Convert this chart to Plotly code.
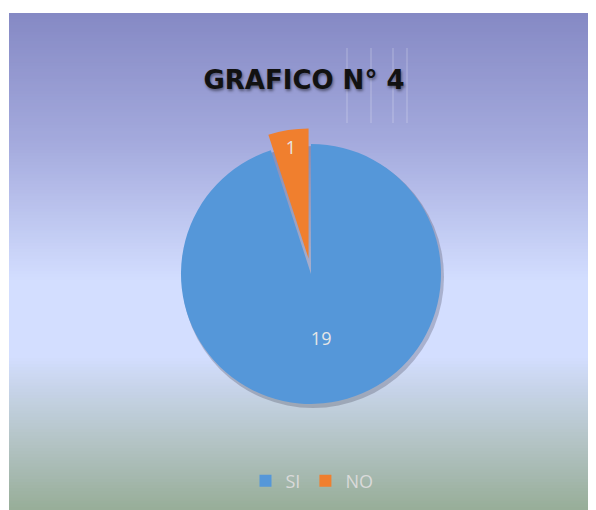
import plotly.graph_objects as go

categories = ["SI", "NO"]
values = [19, 1]
slice_colors = ["#5597D9", "#F07F2E"]
title_text = "GRAFICO N° 4"

# background gradient stops (fraction from top, rgb)
bg_stops = [
    (0.00, (133, 137, 196)),
    (0.26, (164, 170, 221)),
    (0.54, (211, 222, 255)),
    (0.69, (211, 222, 255)),
    (0.86, (180, 196, 198)),
    (1.00, (151, 174, 152)),
]

def interp(f):
    for (f0, c0), (f1, c1) in zip(bg_stops[:-1], bg_stops[1:]):
        if f0 <= f <= f1:
            t = 0 if f1 == f0 else (f - f0) / (f1 - f0)
            return "rgb(%d,%d,%d)" % tuple(round(a + (b - a) * t) for a, b in zip(c0, c1))
    return "rgb(%d,%d,%d)" % bg_stops[-1][1]

W, H = 588, 502
ML, MT = 1, 5
PW, PH = W - ML, H - MT

shapes = []
n = 160
for i in range(n):
    f0 = i / n
    f1 = (i + 1) / n
    shapes.append(dict(type="rect", xref="paper", yref="paper", x0=0, x1=1,
                       y0=1 - f1 - 0.002, y1=1 - f0, line=dict(width=0),
                       fillcolor=interp((f0 + f1) / 2), layer="below"))

# faint artifact lines near the title
for xp in [339, 363, 385, 399]:
    shapes.append(dict(type="line", xref="paper", yref="paper",
                       x0=(xp - ML) / PW, x1=(xp - ML) / PW,
                       y0=(H - 115) / PH, y1=(H - 40) / PH,
                       line=dict(color="rgba(255,255,255,0.3)", width=1), layer="below"))

# soft shadow under the pie
cx, cy, r = 305, 269, 131
shapes.append(dict(type="circle", xref="paper", yref="paper",
                   x0=(cx - r - ML) / PW, x1=(cx + r - ML) / PW,
                   y0=(H - cy - r) / PH, y1=(H - cy + r) / PH,
                   fillcolor="rgba(60,60,80,0.28)", line=dict(width=0), layer="below"))

fig = go.Figure(go.Pie(
    labels=categories,
    values=values,
    sort=False,
    direction="clockwise",
    rotation=0,
    pull=[0, 0.12],
    marker=dict(colors=slice_colors, line=dict(width=0)),
    textinfo="value",
    textposition="inside",
    insidetextorientation="horizontal",
    textfont=dict(color="#E6E6E6", size=18, family="Open Sans"),
    domain=dict(x=[0.2664, 0.7625], y=[0.182, 0.768]),
    hoverinfo="label+value",
))

fig.update_layout(
    width=W, height=H,
    margin=dict(l=ML, r=0, t=MT, b=0),
    paper_bgcolor="white",
    plot_bgcolor="rgba(0,0,0,0)",
    shapes=shapes,
    title=dict(text="<b>" + title_text + "</b>", xref="container", yref="container",
               x=296 / W, y=1 - 72 / H, xanchor="center", yanchor="middle",
               font=dict(family="DejaVu Sans", size=26, color="#111111",
                         shadow="1px 2px 3px rgba(0,0,0,0.45)")),
    legend=dict(orientation="h", x=(304 - ML) / PW, xanchor="center",
                y=(H - 473) / PH, yanchor="middle",
                font=dict(family="Open Sans", size=18, color="#DADADA"),
                bgcolor="rgba(0,0,0,0)", itemwidth=30),
    showlegend=True,
)

fig.write_html("out.html")
